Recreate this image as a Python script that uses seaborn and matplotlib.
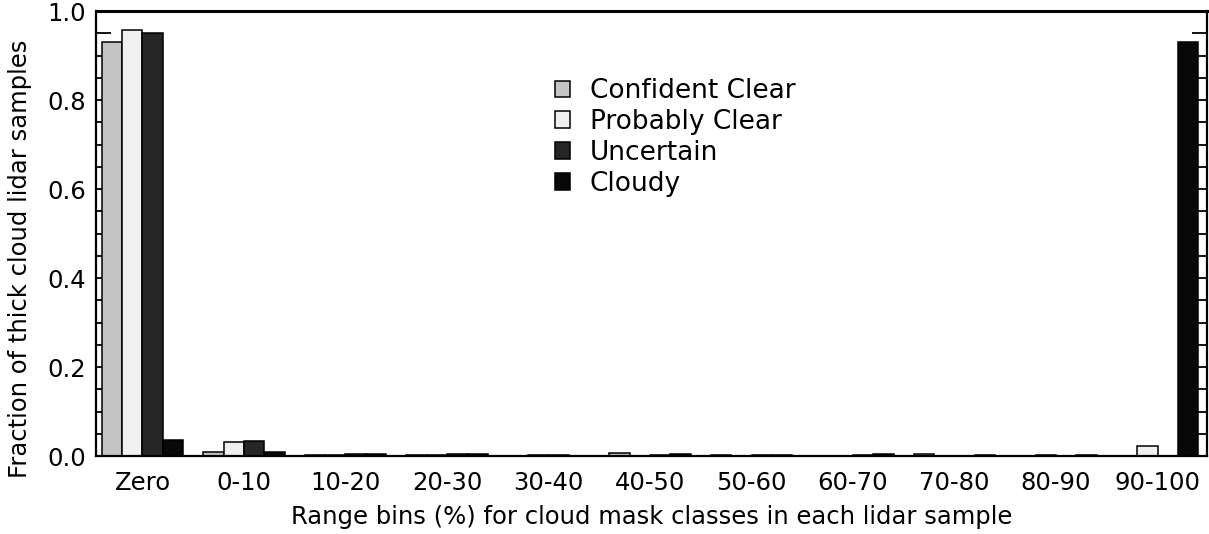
import numpy as np
import pandas as pd
import seaborn as sns
import matplotlib.pyplot as plt
from matplotlib.ticker import MultipleLocator

# Range bins (%) of each cloud mask class within a lidar sample
bins = ["Zero", "0-10", "10-20", "20-30", "30-40", "40-50",
        "50-60", "60-70", "70-80", "80-90", "90-100"]
classes = ["Confident Clear", "Probably Clear", "Uncertain", "Cloudy"]

# Fraction of thick-cloud lidar samples falling in each bin, per class
confident_clear = [0.930, 0.008, 0.003, 0.002, 0.001, 0.006, 0.003, 0.001, 0.004, 0.001, 0.000]
probably_clear = [0.957, 0.032, 0.003, 0.003, 0.002, 0.001, 0.001, 0.001, 0.001, 0.003, 0.022]
uncertain = [0.950, 0.034, 0.004, 0.004, 0.002, 0.003, 0.002, 0.002, 0.001, 0.001, 0.000]
cloudy = [0.035, 0.008, 0.004, 0.004, 0.001, 0.004, 0.002, 0.005, 0.003, 0.002, 0.930]

class_colors = ["#c4c4c4", "#f0f0f0", "#262626", "#080808"]

df = pd.DataFrame({
    "bin": bins * 4,
    "cls": np.repeat(classes, len(bins)),
    "fraction": confident_clear + probably_clear + uncertain + cloudy,
})

sns.set_style("ticks")
plt.rcParams["font.family"] = ["DejaVu Sans"]
plt.rcParams["axes.linewidth"] = 1.6
for key in ("text.color", "axes.labelcolor", "xtick.color", "ytick.color",
            "axes.edgecolor"):
    plt.rcParams[key] = "black"

fig = plt.figure(figsize=(12.09, 5.34), dpi=100)
ax = fig.add_axes([0.0794, 0.146, 0.9189, 0.833])

sns.barplot(data=df, x="bin", y="fraction", hue="cls", order=bins,
            hue_order=classes, palette=class_colors, saturation=1,
            edgecolor="black", linewidth=1.1, width=0.8, ax=ax)

ax.set_xlim(-0.458, 10.487)
ax.set_ylim(0, 1.0)
ax.yaxis.set_major_locator(MultipleLocator(0.2))
ax.yaxis.set_minor_locator(MultipleLocator(0.05))
ax.yaxis.set_major_formatter(plt.FormatStrFormatter("%.1f"))
ax.tick_params(axis="y", which="both", direction="in", length=11, width=1.3,
               left=True, right=True, labelsize=17.5, pad=7)
ax.tick_params(axis="x", length=0, labelsize=17.5, pad=11)

ax.set_xlabel("Range bins (%) for cloud mask classes in each lidar sample",
              fontsize=17.5, labelpad=7)
ax.set_ylabel("Fraction of thick cloud lidar samples", fontsize=17.5)
ax.yaxis.set_label_coords(-0.058, 0.444)

for s in ax.spines.values():
    s.set_visible(True)
    s.set_color("black")
ax.spines["top"].set_linewidth(2.2)

ax.legend(loc="upper left", bbox_to_anchor=(0.413, 0.849), frameon=False,
          fontsize=19, handlelength=0.57, handleheight=0.6,
          handletextpad=0.75, labelspacing=0.18, borderpad=0, borderaxespad=0)

fig.savefig("out.png", dpi=100)
